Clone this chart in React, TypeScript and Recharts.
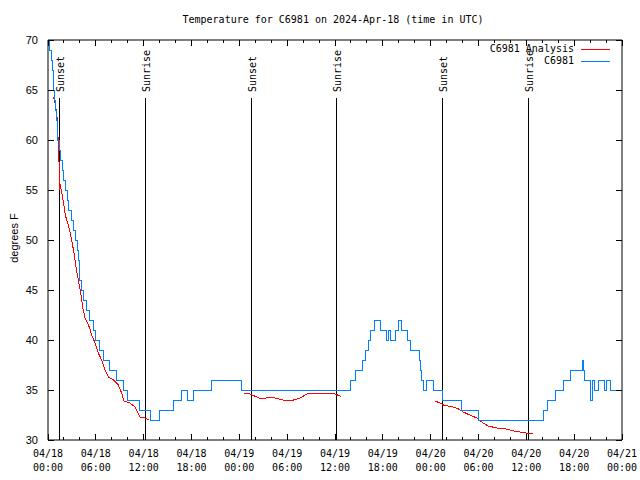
import { LineChart, Line, XAxis, YAxis, ReferenceLine } from 'recharts'

const MONO = '"DejaVu Sans Mono", "Liberation Mono", monospace'
const SANS = '"Liberation Sans", Arial, sans-serif'

// hours since 04/18 00:00 UTC, and observed temperature (deg F)
const stationHours = [
  0, 0.25, 0.4, 0.52, 0.64, 0.74, 0.84, 0.95, 1.05, 1.15, 1.25, 1.45, 1.6, 1.78, 1.95, 2.15,
  2.4, 2.6, 2.9, 3.2, 3.4, 3.65, 3.8, 3.93, 4.0, 4.15, 4.4, 4.85, 5.2, 5.7, 6.0, 6.4, 7.0,
  7.7, 8.65, 9.5, 9.95, 11.5, 12.85, 13.95, 15.7, 16.8, 17.5, 18.3, 20.5, 24.3, 37.9, 38.6,
  39.4, 39.8, 40.2, 40.5, 41.0, 41.7, 42.4, 42.7, 42.95, 43.6, 43.95, 44.4, 45.1, 45.5,
  46.6, 46.75, 46.9, 47.05, 47.2, 47.45, 48.4, 49.45, 51.9, 54.0, 62.2, 62.6, 63.7, 64.7,
  65.6, 67.0, 67.2, 67.35, 68.0, 68.1, 68.3, 68.6, 69.0, 69.75, 70.1, 70.5, 72,
]
const stationTemps = [
  70, 69, 68, 67, 66, 65, 64, 63, 62, 61, 60, 59, 58, 57, 56, 55,
  54, 53, 52, 51, 50, 49, 48, 47, 46, 45, 44, 43, 42, 41, 40, 39, 38,
  37, 36, 35, 34, 33, 32, 33, 34, 35, 34, 35, 36, 35, 36, 37,
  38, 39, 40, 41, 42, 41, 40, 41, 40, 41, 42, 41, 40, 39,
  38, 37, 36, 35, 35, 36, 35, 34, 33, 32, 33, 34, 35, 36,
  37, 38, 37, 36, 35, 34, 36, 35, 36, 35, 36, 35, 35,
]

// analysis series, null = gap
const analysisHours = [
  0.7, 0.95, 1.17, 1.25, 1.34, 1.42, 1.5, 1.55, 1.65, 1.8, 2.0, 2.2, 2.4, 2.65, 2.95, 3.26,
  3.51, 3.8, 4.1, 4.35, 4.64, 5.18, 5.48, 5.9, 6.31, 6.73, 7.15, 7.57, 8.2, 8.82, 9.24, 9.5,
  10.3, 10.9, 11.3, 11.5, 12.2, 12.6, 13,
  24.6, 25.3, 26.2, 26.8, 27.4, 27.85, 28.5, 29.5, 30.8, 31.6, 32.5, 33.3, 35.0, 36.0, 36.6,
  36.8, 40,
  48.5, 49.2, 49.6, 50.85, 51.5, 52.1, 52.9, 53.8, 54.4, 55.2, 56.3, 57.5, 58.4, 59.2, 60.0,
  60.8,
]
const analysisTemps = [
  64.3, 63.5, 62, 60.4, 58.7, 57, 55, 55.6, 55, 54.4, 53.4, 52.4, 51.9, 51.2, 50.1, 48.7,
  47.3, 46, 44.7, 43.3, 42.2, 41.3, 40.5, 39.7, 38.7, 38, 37, 36.3, 36, 35.5, 34.7, 33.9,
  33.7, 33.3, 32.7, 32.3, 32.2, 32.0, null,
  34.7, 34.6, 34.3, 34.1, 34.2, 34.3, 34.2, 34.0, 34.0, 34.2, 34.6, 34.7, 34.7, 34.6, 34.4,
  34.4, null,
  33.9, 33.7, 33.5, 33.3, 33.1, 32.8, 32.5, 32.2, 31.8, 31.4, 31.2, 31.1, 30.9, 30.8, 30.7,
  30.6,
]

const sunHours = [1.42, 12.2, 25.5, 36.13, 49.46, 60.25]
const sunLabels = ['Sunset', 'Sunrise', 'Sunset', 'Sunrise', 'Sunset', 'Sunrise']

const majorHours = [0, 6, 12, 18, 24, 30, 36, 42, 48, 54, 60, 66, 72]
const tickDates = ['04/18', '04/18', '04/18', '04/18', '04/19', '04/19', '04/19', '04/19', '04/20', '04/20', '04/20', '04/20', '04/21']
const tickTimes = ['00:00', '06:00', '12:00', '18:00', '00:00', '06:00', '12:00', '18:00', '00:00', '06:00', '12:00', '18:00', '00:00']
const allHours = [
  0, 2, 4, 6, 8, 10, 12, 14, 16, 18, 20, 22, 24, 26, 28, 30, 32, 34, 36,
  38, 40, 42, 44, 46, 48, 50, 52, 54, 56, 58, 60, 62, 64, 66, 68, 70, 72,
]
const yTicks = [30, 35, 40, 45, 50, 55, 60, 65, 70]

const legendNames = ['C6981 Analysis', 'C6981']
const legendColors = ['#ff0000', '#0080ff']

const stationData = stationHours.map((t, i) => ({ t, v: stationTemps[i] }))
const analysisData = analysisHours.map((t, i) => ({ t, v: analysisTemps[i] }))

function BottomTick({ x, y, payload }: any) {
  const i = majorHours.indexOf(payload.value)
  const major = i >= 0
  return (
    <g>
      <line x1={x} x2={x} y1={y} y2={y - (major ? 6 : 3)} stroke="#000" shapeRendering="crispEdges" />
      {major && (
        <text x={x} y={y + 17} textAnchor="middle" fontFamily={MONO} fontSize={10} fill="#000">
          <tspan x={x}>{tickDates[i]}</tspan>
          <tspan x={x} dy={14}>{tickTimes[i]}</tspan>
        </text>
      )}
    </g>
  )
}

function TopTick({ x, y, payload }: any) {
  const major = majorHours.includes(payload.value)
  return <line x1={x} x2={x} y1={y} y2={y + (major ? 6 : 3)} stroke="#000" shapeRendering="crispEdges" />
}

function LeftTick({ x, y, payload }: any) {
  return (
    <g>
      <line x1={x} x2={x + 6} y1={y} y2={y} stroke="#000" shapeRendering="crispEdges" />
      <text x={x - 10} y={y} dy={4} textAnchor="end" fontFamily={SANS} fontSize={11} fill="#000">
        {payload.value}
      </text>
    </g>
  )
}

function RightTick({ x, y }: any) {
  return <line x1={x} x2={x - 6} y1={y} y2={y} stroke="#000" shapeRendering="crispEdges" />
}

export default function App() {
  return (
    <div style={{ position: 'absolute', left: 0, top: 0, width: 640, height: 480, background: '#fff' }}>
      <LineChart width={640} height={480} margin={{ top: 0, right: 0, bottom: 0, left: 8 }}>
        <XAxis
          dataKey="t"
          type="number"
          domain={[0, 72]}
          allowDataOverflow
          ticks={allHours}
          interval={0}
          height={40}
          tickSize={0}
          tickMargin={0}
          tick={<BottomTick />}
          axisLine={{ stroke: '#000' }}
        />
        <XAxis
          xAxisId="top"
          orientation="top"
          dataKey="t"
          type="number"
          domain={[0, 72]}
          allowDataOverflow
          ticks={allHours}
          interval={0}
          height={40}
          tickSize={0}
          tickMargin={0}
          tick={<TopTick />}
          axisLine={{ stroke: '#000' }}
        />
        <YAxis
          type="number"
          domain={[30, 70]}
          allowDataOverflow
          ticks={yTicks}
          interval={0}
          width={40}
          tickSize={0}
          tickMargin={0}
          tick={<LeftTick />}
          axisLine={{ stroke: '#000' }}
        />
        <YAxis
          yAxisId="right"
          orientation="right"
          type="number"
          domain={[30, 70]}
          allowDataOverflow
          ticks={yTicks}
          interval={0}
          width={18}
          tickSize={0}
          tickMargin={0}
          tick={<RightTick />}
          axisLine={{ stroke: '#000' }}
        />
        {sunHours.map((h, i) => (
          <ReferenceLine
            key={i}
            segment={[{ x: h, y: 30 }, { x: h, y: 64.2 }]}
            stroke="#000"
            strokeWidth={1}
            shapeRendering="crispEdges"
            label={(p: any) => {
              const vb = p.viewBox || {}
              return (
                <text
                  transform={`translate(${vb.x + 5},${vb.y - 6}) rotate(-90)`}
                  fontFamily={MONO}
                  fontSize={10}
                  fill="#000"
                >
                  {sunLabels[i]}
                </text>
              )
            }}
          />
        ))}
        <Line
          data={analysisData}
          dataKey="v"
          type="linear"
          stroke={legendColors[0]}
          strokeWidth={1}
          dot={false}
          shapeRendering="crispEdges"
          isAnimationActive={false}
        />
        <Line
          data={stationData}
          dataKey="v"
          type="stepAfter"
          stroke={legendColors[1]}
          strokeWidth={1}
          dot={false}
          shapeRendering="crispEdges"
          isAnimationActive={false}
        />
      </LineChart>
      <div
        style={{
          position: 'absolute', left: 48, top: 14, width: 570, textAlign: 'center',
          fontFamily: MONO, fontSize: 10, lineHeight: '12px', color: '#000',
        }}
      >
        Temperature for C6981 on 2024-Apr-18 (time in UTC)
      </div>
      <div
        style={{
          position: 'absolute', left: 14, top: 238, transform: 'translate(-50%, -50%) rotate(-90deg)',
          fontFamily: SANS, fontSize: 11, lineHeight: '12px', whiteSpace: 'nowrap', color: '#000',
        }}
      >
        degrees F
      </div>
      {legendNames.map((name, i) => (
        <div key={name}>
          <div
            style={{
              position: 'absolute', right: 66, top: 43 + i * 12, textAlign: 'right',
              fontFamily: MONO, fontSize: 10, lineHeight: '12px', whiteSpace: 'nowrap', color: '#000',
            }}
          >
            {name}
          </div>
          <div
            style={{
              position: 'absolute', left: 581, top: 49 + i * 12, width: 29, height: 1,
              background: legendColors[i],
            }}
          />
        </div>
      ))}
    </div>
  )
}
